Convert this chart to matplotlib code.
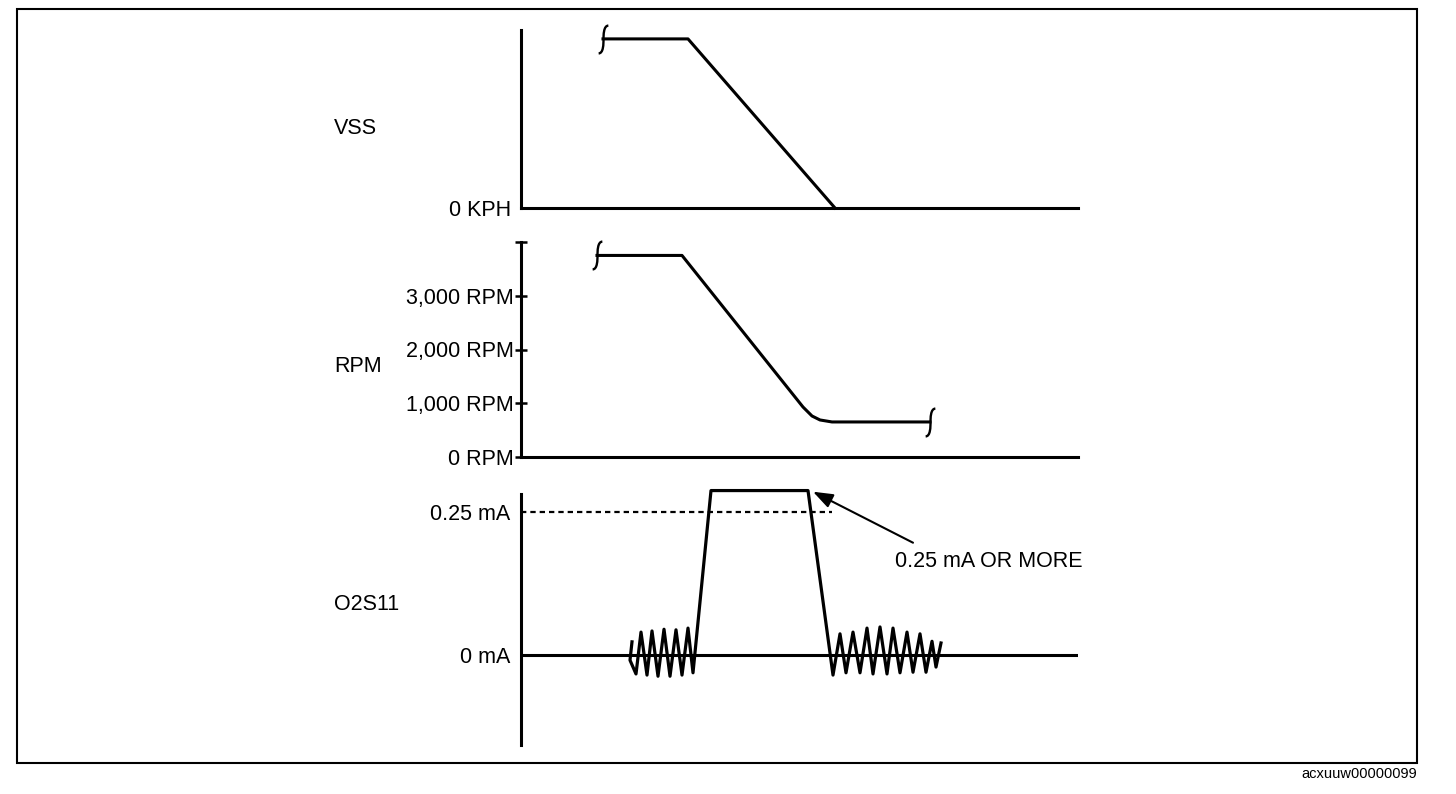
import matplotlib
matplotlib.use("Agg")
import matplotlib.pyplot as plt
from matplotlib.path import Path
from matplotlib.patches import Rectangle

plt.rcParams['font.family'] = ['Liberation Sans', 'DejaVu Sans']

# time axis is arbitrary units, 0 .. 55.7 across each panel
t_max = 55.7

# VSS (km/h)
vss_t = [8.2, 16.7, 31.4]
vss_v = [95, 95, 0]

# engine speed (rpm)
rpm_t = [7.6, 16.1, 28.2, 29.1, 29.9, 31.1, 40.9]
rpm_v = [3750, 3750, 930, 763, 689, 652, 652]
rpm_ticks = [0, 1000, 2000, 3000, 4000]
rpm_labels = ["0 RPM", "1,000 RPM", "2,000 RPM", "3,000 RPM", ""]

# O2S11 current (mA)
o2_t = [11.1, 10.9, 11.5, 12.0, 12.6, 13.1, 13.7, 14.3, 14.9, 15.5, 16.1, 16.7, 17.2,
        19.0, 28.7,
        31.2, 31.9, 32.5, 33.2, 33.9, 34.6, 35.2, 35.9, 36.6, 37.2, 37.9, 38.6, 39.2,
        39.9, 40.5, 41.1, 41.5, 42.0]
o2_ma = [0.023, -0.009, -0.033, 0.040, -0.035, 0.042, -0.037, 0.045, -0.037, 0.044, -0.035, 0.047, -0.031,
         0.287, 0.287,
         -0.035, 0.037, -0.031, 0.040, -0.031, 0.047, -0.033, 0.049, -0.033, 0.047, -0.031, 0.040, -0.030,
         0.037, -0.030, 0.024, -0.021, 0.021]
o2_threshold = 0.25
o2_threshold_end = 31.1

W, H = 1456, 794
fig = plt.figure(figsize=(W / 100, H / 100), dpi=100)

def fig_box(x0, y_top, x1, y_bot):
    return [x0 / W, 1 - y_bot / H, (x1 - x0) / W, (y_bot - y_top) / H]

# outer frame
fig.patches.append(Rectangle((17 / W, 1 - 763 / H), 1400 / W, 754 / H, transform=fig.transFigure,
                             fill=False, edgecolor='black', linewidth=1.5))
fig.text(1417 / W, 1 - 774 / H, "acxuuw00000099", ha='right', va='center', fontsize=10.5)

# little "break" squiggle used at the ends of curves
brk = Path([(0.35, 1.0), (0.0, 1.0), (0.0, 0.3), (0.0, 0.0), (0.0, -0.3), (0.0, -1.0), (-0.35, -1.0)],
           [Path.MOVETO, Path.CURVE4, Path.CURVE4, Path.CURVE4, Path.CURVE4, Path.CURVE4, Path.CURVE4])

lw = 2.2
fs = 15.5

def style(ax):
    ax.set_xlim(0, t_max)
    ax.set_xticks([])
    ax.spines['top'].set_visible(False)
    ax.spines['right'].set_visible(False)
    for s in ax.spines.values():
        s.set_linewidth(lw)
    ax.patch.set_alpha(0)

# --- VSS ---
ax1 = fig.add_axes(fig_box(521, 30, 1078, 208))
style(ax1)
ax1.set_ylim(0, 100)
ax1.plot(vss_t, vss_v, color='black', lw=lw, clip_on=False, solid_joinstyle='round')
ax1.plot([vss_t[0]], [vss_v[0]], marker=brk, ms=20, mfc='none', mec='black', mew=1.7, clip_on=False)
ax1.set_yticks([0])
ax1.set_yticklabels(["0 KPH"])
ax1.tick_params(axis='y', length=0, pad=7, labelsize=fs)
fig.text(334 / W, 1 - 128 / H, "VSS", ha='left', va='center', fontsize=fs)

# --- RPM ---
ax2 = fig.add_axes(fig_box(521, 242, 1078, 457))
style(ax2)
ax2.set_ylim(0, 4000)
ax2.plot(rpm_t, rpm_v, color='black', lw=lw, clip_on=False, solid_joinstyle='round')
ax2.plot([rpm_t[0], rpm_t[-1]], [rpm_v[0], rpm_v[-1]], ls='none', marker=brk, ms=20, mfc='none',
         mec='black', mew=1.7, clip_on=False)
ax2.set_yticks(rpm_ticks)
ax2.set_yticklabels(rpm_labels)
ax2.tick_params(axis='y', direction='inout', length=8, width=1.8, pad=1, labelsize=fs)
fig.text(334 / W, 1 - 367 / H, "RPM", ha='left', va='center', fontsize=fs)

# --- O2S11 ---
ax3 = fig.add_axes(fig_box(521, 494, 1078, 745))
style(ax3)
ax3.spines['bottom'].set_visible(False)
ax3.set_ylim(-0.157, 0.281)
ax3.axhline(0, color='black', lw=lw)
ax3.plot([0, o2_threshold_end], [o2_threshold, o2_threshold], color='black', lw=1.6,
         linestyle=(0, (2.4, 1.8)))
ax3.plot(o2_t, o2_ma, color='black', lw=2.3, clip_on=False, solid_joinstyle='round')
ax3.set_yticks([0, o2_threshold])
ax3.set_yticklabels(["0 mA", "0.25 mA"])
ax3.tick_params(axis='y', length=0, pad=8, labelsize=fs)
ax3.annotate("", xy=(29.2, 0.285), xytext=(39.2, 0.196),
             arrowprops=dict(arrowstyle='-|>,head_length=0.6,head_width=0.22', color='black',
                             lw=1.5, mutation_scale=20, shrinkA=0, shrinkB=0),
             annotation_clip=False)
ax3.text(37.4, 0.163, "0.25 mA OR MORE", ha='left', va='center', fontsize=fs)
fig.text(334 / W, 1 - 604 / H, "O2S11", ha='left', va='center', fontsize=fs)

fig.savefig("out.png", dpi=100)
